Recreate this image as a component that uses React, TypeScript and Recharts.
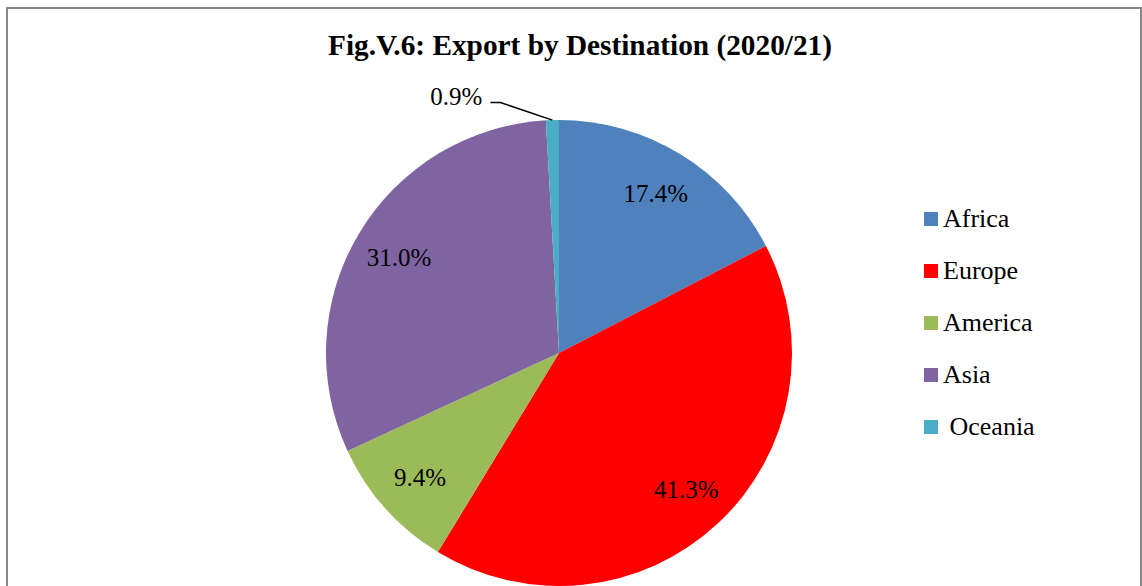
import React from "react";
import { PieChart, Pie, Cell, Legend } from "recharts";

const regions = ["Africa", "Europe", "America", "Asia", "Oceania"];
const legendNames = ["Africa", "Europe", "America", "Asia", " Oceania"];
const shares = [17.4, 41.3, 9.4, 31.0, 0.9];
const colors = ["#4F81BD", "#FF0000", "#9BBB59", "#8064A2", "#4BACC6"];

const data = regions.map((r, i) => ({ name: r, value: shares[i] }));

const FONT = "'Liberation Serif', 'Times New Roman', serif";
const RADIAN = Math.PI / 180;

function renderLabel(props: any) {
  const { cx, cy, midAngle, outerRadius, value, index } = props;
  const txt = value.toFixed(1) + "%";
  if (value < 2) {
    // tiny slice: put label outside with a leader line like excel does
    const ex = cx + outerRadius * Math.cos(-midAngle * RADIAN);
    const ey = cy + outerRadius * Math.sin(-midAngle * RADIAN);
    const mx = ex - 52;
    const my = ey - 17.5;
    return (
      <g key={`lbl-${index}`}>
        <polyline
          points={`${ex},${ey} ${mx},${my} ${mx - 10},${my}`}
          fill="none"
          stroke="#000"
          strokeWidth={1.5}
        />
        <text
          x={mx - 18}
          y={my - 6}
          textAnchor="end"
          dominantBaseline="central"
          style={{ fontFamily: FONT, fontSize: 25 }}
          fill="#000"
        >
          {txt}
        </text>
      </g>
    );
  }
  const r = outerRadius * 0.8;
  const x = cx + r * Math.cos(-midAngle * RADIAN);
  const y = cy + r * Math.sin(-midAngle * RADIAN);
  return (
    <text
      key={`lbl-${index}`}
      x={x}
      y={y}
      textAnchor="middle"
      dominantBaseline="central"
      style={{ fontFamily: FONT, fontSize: 25 }}
      fill="#000"
    >
      {txt}
    </text>
  );
}

function renderLegend() {
  return (
    <div>
      {legendNames.map((n, i) => (
        <div
          key={n}
          style={{ height: 52, display: "flex", alignItems: "center" }}
        >
          <span
            style={{
              display: "inline-block",
              width: 14,
              height: 14,
              background: colors[i],
              marginRight: 5,
            }}
          />
          <span
            style={{
              fontFamily: FONT,
              fontSize: 26,
              color: "#000",
              whiteSpace: "pre",
              lineHeight: "26px",
            }}
          >
            {n}
          </span>
        </div>
      ))}
    </div>
  );
}

export default function App() {
  return (
    <div
      style={{
        position: "absolute",
        left: 0,
        top: 0,
        width: 1142,
        height: 586,
        overflow: "hidden",
        background: "#fff",
      }}
    >
      <div
        style={{
          position: "absolute",
          left: 6,
          top: 7,
          width: 1132,
          height: 620,
          border: "2px solid #878787",
        }}
      />
      <div
        style={{
          position: "absolute",
          left: 0,
          top: 31,
          width: 1160,
          textAlign: "center",
          fontFamily: FONT,
          fontWeight: "bold",
          fontSize: 29.3,
          lineHeight: "29px",
          color: "#000",
        }}
      >
        Fig.V.6: Export by Destination (2020/21)
      </div>
      <PieChart
        width={1142}
        height={586}
        margin={{ top: 0, right: 0, bottom: 0, left: 0 }}
        style={{ position: "absolute", left: 0, top: 0 }}
      >
        <Pie
          data={data}
          dataKey="value"
          nameKey="name"
          cx={559}
          cy={353}
          outerRadius={233}
          startAngle={90}
          endAngle={-270}
          stroke="none"
          label={renderLabel}
          labelLine={false}
          isAnimationActive={false}
        >
          {data.map((d, i) => (
            <Cell key={d.name} fill={colors[i]} stroke="none" />
          ))}
        </Pie>
        <Legend
          content={renderLegend}
          wrapperStyle={{ position: "absolute", left: 924, top: 193, width: 200 }}
        />
      </PieChart>
    </div>
  );
}
